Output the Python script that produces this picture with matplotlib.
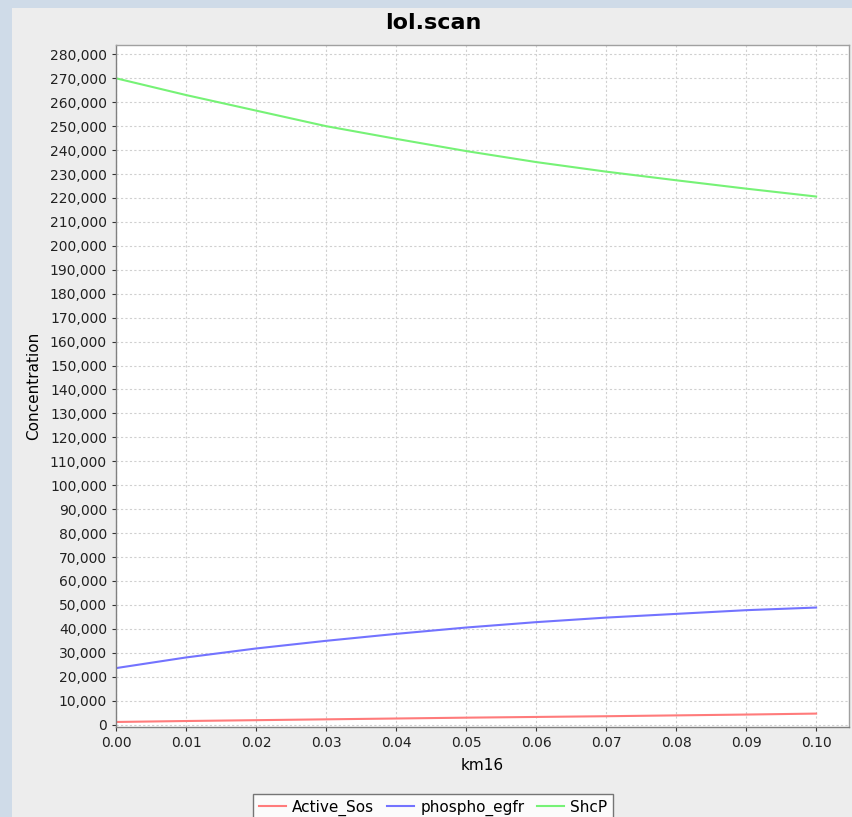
import matplotlib
matplotlib.use("Agg")
import matplotlib.pyplot as plt
from matplotlib.ticker import MultipleLocator, FuncFormatter
from matplotlib.patches import Rectangle

km16 = [0.00, 0.01, 0.02, 0.03, 0.04, 0.05, 0.06, 0.07, 0.08, 0.09, 0.10]
active_sos = [1100, 1500, 1850, 2200, 2550, 2900, 3200, 3500, 3850, 4200, 4600]
phospho_egfr = [23600, 28050, 31800, 35000, 37900, 40550, 42800, 44700, 46250, 47800, 48900]
shcp = [270000, 263000, 256500, 250000, 244700, 239600, 235000, 231000, 227400, 223900, 220600]

series_names = ["Active_Sos", "phospho_egfr", "ShcP"]
series_colors = ["#ff7b7b", "#7373ff", "#76f276"]

plt.rcParams['font.family'] = ['DejaVu Sans']

fig = plt.figure(figsize=(8.52, 8.17), dpi=100)
fig.patch.set_facecolor("#cfdbe8")
# chart panel
fig.patches.append(Rectangle((12/852, 0), 1 - 12/852, 1 - 8/817, transform=fig.transFigure,
                             facecolor="#ededed", edgecolor="none", zorder=-10))

ax = fig.add_axes([116/852, 1 - 727/817, (849 - 116)/852, (727 - 45)/817])
ax.set_zorder(1)
ax.set_facecolor("white")

for vals, name, col in zip([active_sos, phospho_egfr, shcp], series_names, series_colors):
    ax.plot(km16, vals, color=col, lw=1.5, label=name)

ax.set_xlim(0, 0.1047)
ax.set_ylim(-1000, 283900)
ax.xaxis.set_major_locator(MultipleLocator(0.01))
ax.yaxis.set_major_locator(MultipleLocator(10000))
ax.xaxis.set_major_formatter(FuncFormatter(lambda v, p: f"{v:.2f}"))
ax.yaxis.set_major_formatter(FuncFormatter(lambda v, p: f"{int(round(v)):,}"))
ax.grid(True, color="#d0d0d0", linestyle=(0, (2, 2)), linewidth=0.8)
ax.tick_params(axis="both", labelsize=10, colors="#333333", length=3, width=0.8,
               labelcolor="#222222")
for s in ax.spines.values():
    s.set_color("#a0a0a0")
    s.set_linewidth(1)
ax.spines["left"].set_color("#808080")
ax.spines["bottom"].set_color("#808080")

fig.text(433/852, 1 - 23/817, "lol.scan", fontsize=16, fontweight="bold",
         ha="center", va="center")
ax.set_xlabel("km16", fontsize=11, labelpad=6)
ax.set_ylabel("Concentration", fontsize=11, labelpad=6)

leg = fig.legend(loc="upper center", bbox_to_anchor=(433/852, 1 - 786/817), ncol=3,
                 frameon=True, fancybox=False, fontsize=11, handlelength=1.8,
                 handletextpad=0.4, columnspacing=0.8, borderpad=0.4)
leg.get_frame().set_edgecolor("#555555")
leg.get_frame().set_linewidth(1)
leg.get_frame().set_facecolor("white")

fig.savefig("out.png", dpi=100, facecolor=fig.get_facecolor())
